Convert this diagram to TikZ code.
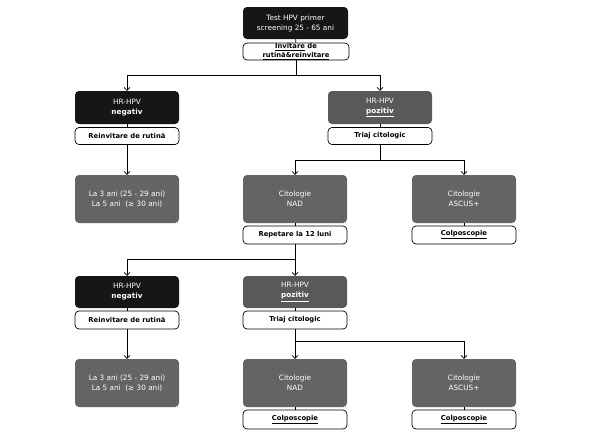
\documentclass[tikz,border=0pt]{standalone}
\usepackage{fontspec}
\setmainfont{DejaVu Sans}
\usetikzlibrary{arrows.meta}
\definecolor{boxblack}{HTML}{161616}
\definecolor{boxgray}{HTML}{646464}
\definecolor{boxpoz}{HTML}{595959}

\begin{document}
\begin{tikzpicture}[x=1pt,y=-1pt,>={Straight Barb[length=3pt,width=6pt]},
        base/.style={rounded corners=4pt,minimum width=104pt,inner sep=0pt,align=center,font=\fontsize{7.3}{10}\selectfont},
        darkbox/.style={base,fill=boxblack,text=white,minimum height=33pt},
        pozbox/.style={base,fill=boxpoz,text=white,minimum height=33pt},
        greybox/.style={base,fill=boxgray,text=white,minimum height=48pt},
        whitebox/.style={base,draw=black,line width=0.7pt,fill=white,font=\fontsize{6.8}{8.5}\selectfont\bfseries,minimum height=17pt},
        conn/.style={draw=black,line width=0.7pt}]
    \fill [white] (0,0) rectangle (591,439);
    \useasboundingbox (0,0) rectangle (591,439);
    % screening
    \node [darkbox,minimum width=105pt,minimum height=32pt] (test) at (295.5,23) {Test HPV primer\\screening 25 - 65 ani};
    \node [whitebox,minimum width=106pt] (invit) at (296,51.5) {\underline{Invitare} de\\\underline{rutină\&reinvitare}};
    \coordinate (s1) at (296,75);
    % first test
    \node [darkbox] (neg1) at (127,107.5) {HR-HPV\\\textbf{negativ}};
    \node [pozbox] (poz1) at (380,107.5) {HR-HPV\\\textbf{\underline{pozitiv}}};
    \node [whitebox] (reinv1) at (127,136) {Reinvitare de rutină};
    \node [whitebox] (triaj1) at (380,136) {Triaj citologic};
    \coordinate (s2) at (380,160);
    \node [greybox] (ani1) at (127,199) {La 3 ani (25 - 29 ani)\\La 5 ani \ (≥ 30 ani)};
    \node [greybox] (nad1) at (295,199) {Citologie\\NAD};
    \node [greybox] (ascus1) at (464,199) {Citologie\\ASCUS+};
    \node [whitebox,minimum height=18pt] (rep) at (295,235) {Repetare la 12 luni};
    \node [whitebox,minimum height=18pt] (colpo1) at (464,235) {\underline{Colposcopie}};
    \coordinate (s3) at (295,259);
    % second test
    \node [darkbox,minimum height=32pt] (neg2) at (127,292) {HR-HPV\\\textbf{negativ}};
    \node [pozbox,minimum height=32pt] (poz2) at (295,292) {HR-HPV\\\textbf{\underline{pozitiv}}};
    \node [whitebox,minimum height=18pt] (reinv2) at (127,320) {Reinvitare de rutină};
    \node [whitebox,minimum height=18pt] (triaj2) at (295,320) {Triaj citologic};
    \coordinate (s4) at (295,341);
    \node [greybox] (ani2) at (127,383) {La 3 ani (25 - 29 ani)\\La 5 ani \ (≥ 30 ani)};
    \node [greybox] (nad2) at (295,383) {Citologie\\NAD};
    \node [greybox] (ascus2) at (464,383) {Citologie\\ASCUS+};
    \node [whitebox,minimum height=19pt] (colpo2) at (295,419.5) {\underline{Colposcopie}};
    \node [whitebox,minimum height=19pt] (colpo3) at (464,419.5) {\underline{Colposcopie}};
    % connectors
    \draw [conn] (test) -- (invit);
    \draw [conn] (invit) -- (s1);
    \draw [conn,->] (s1) -| (neg1);
    \draw [conn,->] (s1) -| (poz1);
    \draw [conn] (neg1) -- (reinv1);
    \draw [conn] (poz1) -- (triaj1);
    \draw [conn,->] (reinv1) -- (ani1);
    \draw [conn] (triaj1) -- (s2);
    \draw [conn,->] (s2) -| (nad1);
    \draw [conn,->] (s2) -| (ascus1);
    \draw [conn] (nad1) -- (rep);
    \draw [conn] (ascus1) -- (colpo1);
    \draw [conn] (rep) -- (s3);
    \draw [conn,->] (s3) -| (neg2);
    \draw [conn,->] (s3) -- (poz2);
    \draw [conn] (neg2) -- (reinv2);
    \draw [conn] (poz2) -- (triaj2);
    \draw [conn,->] (reinv2) -- (ani2);
    \draw [conn] (triaj2) -- (s4);
    \draw [conn,->] (s4) -- (nad2);
    \draw [conn,->] (s4) -| (ascus2);
    \draw [conn] (nad2) -- (colpo2);
    \draw [conn] (ascus2) -- (colpo3);
\end{tikzpicture}
\end{document}
